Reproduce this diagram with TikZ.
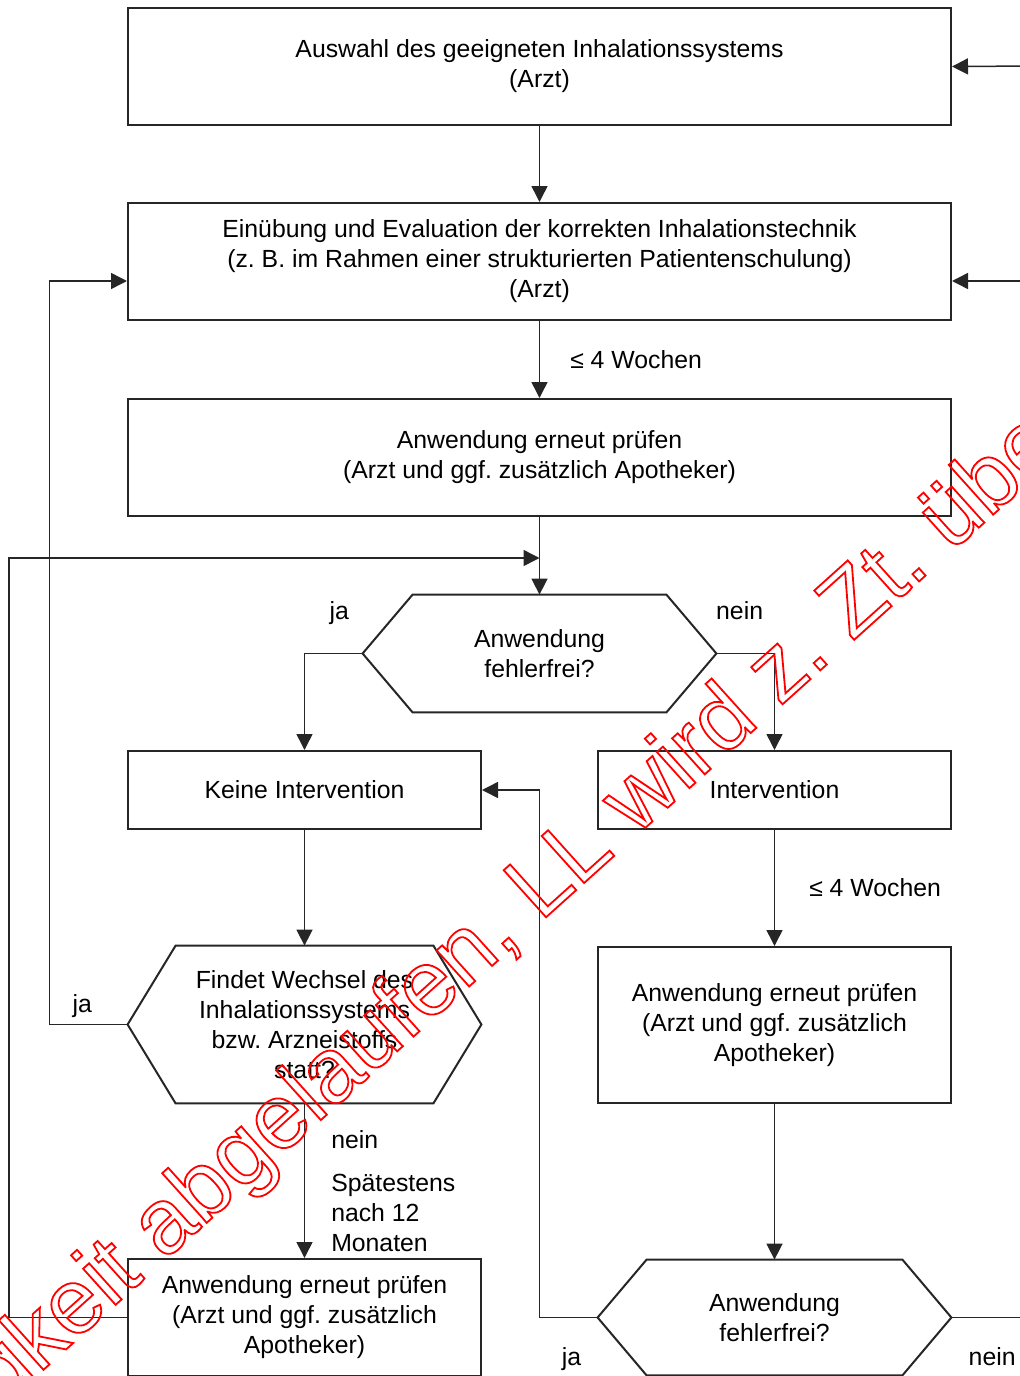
\documentclass[tikz,border=0pt]{standalone}
\usepackage{fontspec}
\setmainfont{Liberation Sans}
\usetikzlibrary{arrows.meta, calc}
\frenchspacing

\begin{document}
\begin{tikzpicture}[x=0.5pt, y=-0.5pt, >={Triangle[length=8pt,width=8pt]},
  box/.style={draw=black!85, line width=1pt, align=center, inner sep=0pt, font=\fontsize{12.4}{15}\selectfont},
  wide/.style={box, minimum width=411.5pt, minimum height=58.5pt},
  half/.style={box, minimum width=176.5pt},
  hexnode/.style={align=center, inner sep=0pt, minimum width=176.5pt, font=\fontsize{12.4}{15}\selectfont},
  line/.style={draw=black!85, line width=.75pt},
  lbl/.style={inner sep=0pt, font=\fontsize{12.4}{15}\selectfont}]

\useasboundingbox (0,0) rectangle (1020,1376);

\node[wide] (auswahl) at (539.5,66.5) {Auswahl des geeigneten Inhalationssystems\\(Arzt)};
\node[wide] (einueb) at (539.5,261.5) {Einübung und Evaluation der korrekten Inhalationstechnik\\(z. B. im Rahmen einer strukturierten Patientenschulung)\\(Arzt)};
\node[wide] (pruefa) at (539.5,457.5) {Anwendung erneut prüfen\\(Arzt und ggf. zusätzlich Apotheker)};
\node[hexnode, minimum height=58.5pt] (hexa) at (539.5,653.5) {Anwendung\\fehlerfrei?};
\node[half, minimum height=39pt] (keine) at (304.5,790) {Keine Intervention};
\node[half, minimum height=39pt] (interv) at (774.5,790) {Intervention};
\node[hexnode, minimum height=78.5pt] (hexb) at (304.5,1024.5) {Findet Wechsel des\\Inhalationssystems\\bzw. Arzneistoffs\\statt?};
\node[half, minimum height=78pt] (pruefb) at (774.5,1025) {Anwendung erneut prüfen\\(Arzt und ggf. zusätzlich\\Apotheker)};
\node[half, minimum height=58.5pt] (pruefc) at (304.5,1317.5) {Anwendung erneut prüfen\\(Arzt und ggf. zusätzlich\\Apotheker)};
\node[hexnode, minimum height=57.5pt] (hexc) at (774.5,1317.5) {Anwendung\\fehlerfrei?};

% hexagon outlines
\foreach \n/\c in {hexa/25pt, hexb/24pt, hexc/24.5pt}
  \draw[draw=black!85, line width=1pt] (\n.west) -- ([xshift=\c]\n.north west) -- ([xshift=-\c]\n.north east) -- (\n.east) -- ([xshift=-\c]\n.south east) -- ([xshift=\c]\n.south west) -- cycle;

\coordinate (merge) at (539.5,558);
\coordinate (rina) at (1040,66);
\coordinate (rinb) at (1040,281);
\coordinate (rout) at (1040,1317.5);

\draw[line, ->] (auswahl) -- (einueb);
\draw[line, ->] (einueb) -- node[lbl, anchor=west, xshift=15pt]{≤ 4 Wochen} (pruefa);
\draw[line, ->] (pruefa) -- (hexa);
\draw[line, ->] (pruefc.west) -- ++(-118,0) |- (merge);
\draw[line, ->] (hexa.west) -| node[lbl, anchor=base, yshift=17pt, pos=.2]{ja} (keine.north);
\draw[line, ->] (hexa.east) -| node[lbl, anchor=base, yshift=17pt, pos=.2]{nein} (interv.north);
\draw[line, ->] (keine) -- (hexb);
\draw[line, ->] (hexb.west) -- node[lbl, anchor=base, yshift=6.25pt, pos=.58]{ja} ++(-78,0) |- (rinb -| einueb.west);
\draw[line, ->] (hexb) -- node[lbl, anchor=base west, xshift=13pt, pos=.29]{nein} node[lbl, anchor=west, align=left, xshift=13pt, pos=.71]{Spätestens\\nach 12\\Monaten} (pruefc);
\draw[line, ->] (interv) -- node[lbl, anchor=west, xshift=17pt]{≤ 4 Wochen} (pruefb);
\draw[line, ->] (pruefb) -- (hexc);
\draw[line, ->] (hexc.west) -- node[lbl, anchor=base, yshift=-23.75pt, pos=.45]{ja} ++(-58,0) |- (keine.east);
\draw[line] (hexc.east) -- node[lbl, anchor=base, yshift=-23.75pt, pos=.46]{nein} (rout);
\draw[line, ->] (rina) -- (auswahl.east);
\draw[line, ->] (rinb) -- (rinb -| einueb.east);

% stamp across the chart
\node[inner sep=0pt, anchor=base west, rotate=42, text=red, font=\fontsize{46}{46}\selectfont] (stamp) at (-140,1535) {\special{pdf:literal direct 1 Tr 0.9 w}Gültigkeit abgelaufen, LL wird z. Zt. überarbeitet\special{pdf:literal direct 0 Tr}};
\end{tikzpicture}
\end{document}
